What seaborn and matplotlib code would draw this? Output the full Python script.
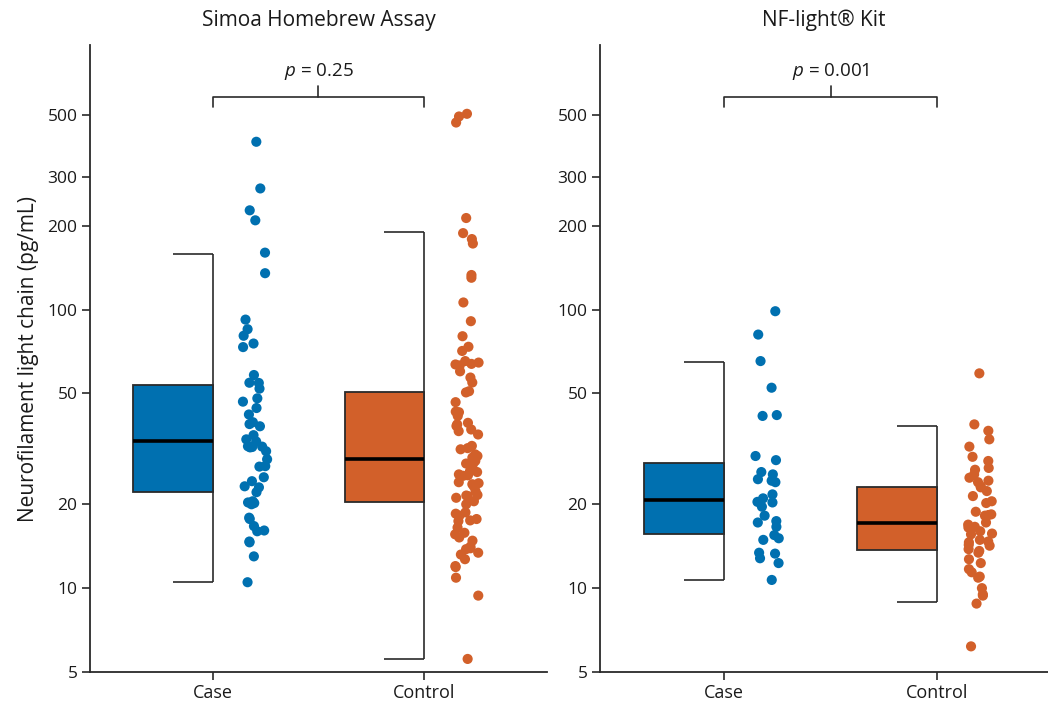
import numpy as np
import pandas as pd
import matplotlib
matplotlib.use("Agg")
import matplotlib.pyplot as plt
import seaborn as sns

# ---------------- data ----------------
groups = ["Case", "Control"]
panel_titles = ["Simoa Homebrew Assay", "NF-light\u00ae Kit"]
p_labels = ["0.25", "0.001"]
y_ticks = [5, 10, 20, 50, 100, 200, 300, 500]
y_label = "Neurofilament light chain (pg/mL)"

simoa_case = [400, 272, 227, 209, 160, 135, 92, 85, 80.5, 75.5, 73.3, 58.2, 54.5,
              54.6, 52, 48, 46.7, 44.3, 42, 39.4, 38.8, 38.1, 35.4, 34.2, 33.6,
              32.2, 32.0, 32.3, 32.1, 31, 29, 27.3, 27.4, 25, 24.2, 23.2, 23,
              22.1, 20, 20.3, 20.5, 20.2, 17.9, 17.7, 16.7, 16.1, 16.0, 14.6,
              14.7, 13.0, 10.5]
simoa_control = [493, 504, 469, 213, 188, 179, 172.5, 133, 130, 106, 90.8, 80.2,
                 73.5, 71, 65.3, 63.5, 60, 64.5, 63, 63.8, 57, 54.7, 50.4, 50.9,
                 46.5, 43, 42.8, 41.5, 38.2, 38.7, 39.2, 36.6, 35.6, 37.1, 31.8,
                 32.4, 31.5, 29.8, 30.2, 29.4, 28.0, 28.6, 27.8, 27.4, 26.1, 26.3,
                 25.3, 25.4, 25.6, 24.0, 23.6, 23.2, 23.8, 22.3, 21.4, 21.1, 21.5,
                 21.6, 20.5, 20, 18.7, 18.2, 17.4, 18.5, 17.7, 17.5, 16.5, 15.8,
                 15.6, 15.2, 14.8, 13.9, 13.8, 13.2, 14.1, 13.4, 12.7, 11.9, 12.0,
                 10.9, 9.4, 5.57]
nfl_case = [98.6, 81.3, 65.3, 52.4, 41.8, 41.5, 29.8, 28.8, 26.1, 25.6, 24.6, 24.3,
            24.0, 21.7, 21.0, 20.3, 20.4, 19.6, 18.2, 17.4, 17.2, 16.6, 15.5, 15.1,
            14.9, 13.4, 12.8, 13.3, 12.3, 10.7]
nfl_control = [59, 38.7, 36.7, 34.2, 32.2, 29.6, 28.6, 27.0, 26.6, 25.6, 24.0, 23.0,
               24.9, 24.3, 23.2, 22.3, 21.4, 20.5, 20.2, 18.8, 18.4, 18.2, 18.3,
               16.9, 16.5, 17.2, 16.6, 16.0, 15.6, 15.7, 14.9, 14.7, 14.6, 13.6,
               13.8, 14.2, 13.4, 14.3, 12.7, 12.3, 11.7, 11.4, 10.9, 11.0, 10.0,
               9.4, 8.8, 9.5, 6.18]

# box statistics per panel: [Case, Control]
simoa_q1 = [22.1, 20.3]
simoa_med = [33.6, 29.0]
simoa_q3 = [53.4, 50.4]
simoa_lo = [10.5, 5.57]
simoa_hi = [158.7, 189.0]
nfl_q1 = [15.7, 13.7]
nfl_med = [20.7, 17.2]
nfl_q3 = [28.1, 23.0]
nfl_lo = [10.7, 8.9]
nfl_hi = [64.6, 38.1]

# ---------------- style ----------------
colors = ["#0070B0", "#D2602A"]
sns.set_theme(style="white")
plt.rcParams["font.family"] = ["Open Sans", "DejaVu Sans"]
plt.rcParams["mathtext.fontset"] = "custom"
plt.rcParams["mathtext.it"] = "Open Sans:italic"
plt.rcParams["mathtext.rm"] = "Open Sans"

fig = plt.figure(figsize=(10.48, 7.02), dpi=100)
ax1 = fig.add_axes([90 / 1048, 30 / 702, 457 / 1048, 627 / 702])
ax2 = fig.add_axes([600 / 1048, 30 / 702, 448 / 1048, 627 / 702])

panels = [
    (ax1, simoa_case, simoa_control, simoa_q1, simoa_med, simoa_q3, simoa_lo, simoa_hi, (-0.58, 1.58)),
    (ax2, nfl_case, nfl_control, nfl_q1, nfl_med, nfl_q3, nfl_lo, nfl_hi, (-0.582, 1.52)),
]

np.random.seed(3)
BOX_W = 0.375
CAP_W = 0.19
DOT_SHIFT = 0.20
line_col = "#2a2a2a"

for i, (ax, case, ctrl, q1, med, q3, lo, hi, xl) in enumerate(panels):
    df = pd.DataFrame({
        "group": ["Case"] * len(case) + ["Control"] * len(ctrl),
        "value": case + ctrl,
    })
    sns.stripplot(data=df, x="group", y="value", hue="group", order=groups,
                  hue_order=groups, palette=colors, jitter=0.06, size=7.3,
                  linewidth=0, legend=False, ax=ax, zorder=4)
    for c in ax.collections:
        offs = c.get_offsets()
        offs[:, 0] += DOT_SHIFT
        c.set_offsets(offs)

    xs = np.arange(len(groups))
    ax.bar(xs, np.array(q3) - np.array(q1), bottom=q1, width=-BOX_W, align="edge",
           color=colors, edgecolor=line_col, linewidth=1.3, zorder=2)
    ax.hlines(med, xs - BOX_W, xs, color="black", linewidth=2.6, zorder=3)
    ax.vlines(xs, lo, hi, color=line_col, linewidth=1.2, zorder=1)
    ax.hlines(lo, xs - CAP_W, xs, color=line_col, linewidth=1.2, zorder=1)
    ax.hlines(hi, xs - CAP_W, xs, color=line_col, linewidth=1.2, zorder=1)

    # significance bracket
    ax.plot([0, 0, 1, 1], [531, 581, 581, 531], color=line_col, linewidth=1.2,
            clip_on=False)
    ax.plot([0.5, 0.5], [581, 634], color=line_col, linewidth=1.2, clip_on=False)
    ax.text(0.5, 655, r"$\it{p}$ = " + p_labels[i], ha="center", va="bottom",
            fontsize=13.5, color="#1a1a1a")

    ax.set_yscale("log")
    ax.set_ylim(5, 890)
    ax.set_xlim(*xl)
    ax.set_yticks(y_ticks)
    ax.set_yticklabels([str(t) for t in y_ticks])
    ax.yaxis.set_minor_locator(matplotlib.ticker.NullLocator())
    ax.set_xticks(xs)
    ax.set_xticklabels(groups)
    ax.set_xlabel("")
    ax.set_ylabel(y_label if i == 0 else "", fontsize=15, color="#1a1a1a",
                  labelpad=6)
    ax.set_title(panel_titles[i], fontsize=15, color="#1a1a1a", pad=14)
    ax.tick_params(axis="both", which="major", direction="out", length=6,
                   width=1.2, color=line_col, labelsize=12.5, labelcolor="#1a1a1a",
                   left=True, bottom=True, pad=3)
    ax.tick_params(axis="x", labelsize=13)
    sns.despine(ax=ax)
    for s in ["left", "bottom"]:
        ax.spines[s].set_color(line_col)
        ax.spines[s].set_linewidth(1.3)

fig.savefig("out.png", dpi=100)
